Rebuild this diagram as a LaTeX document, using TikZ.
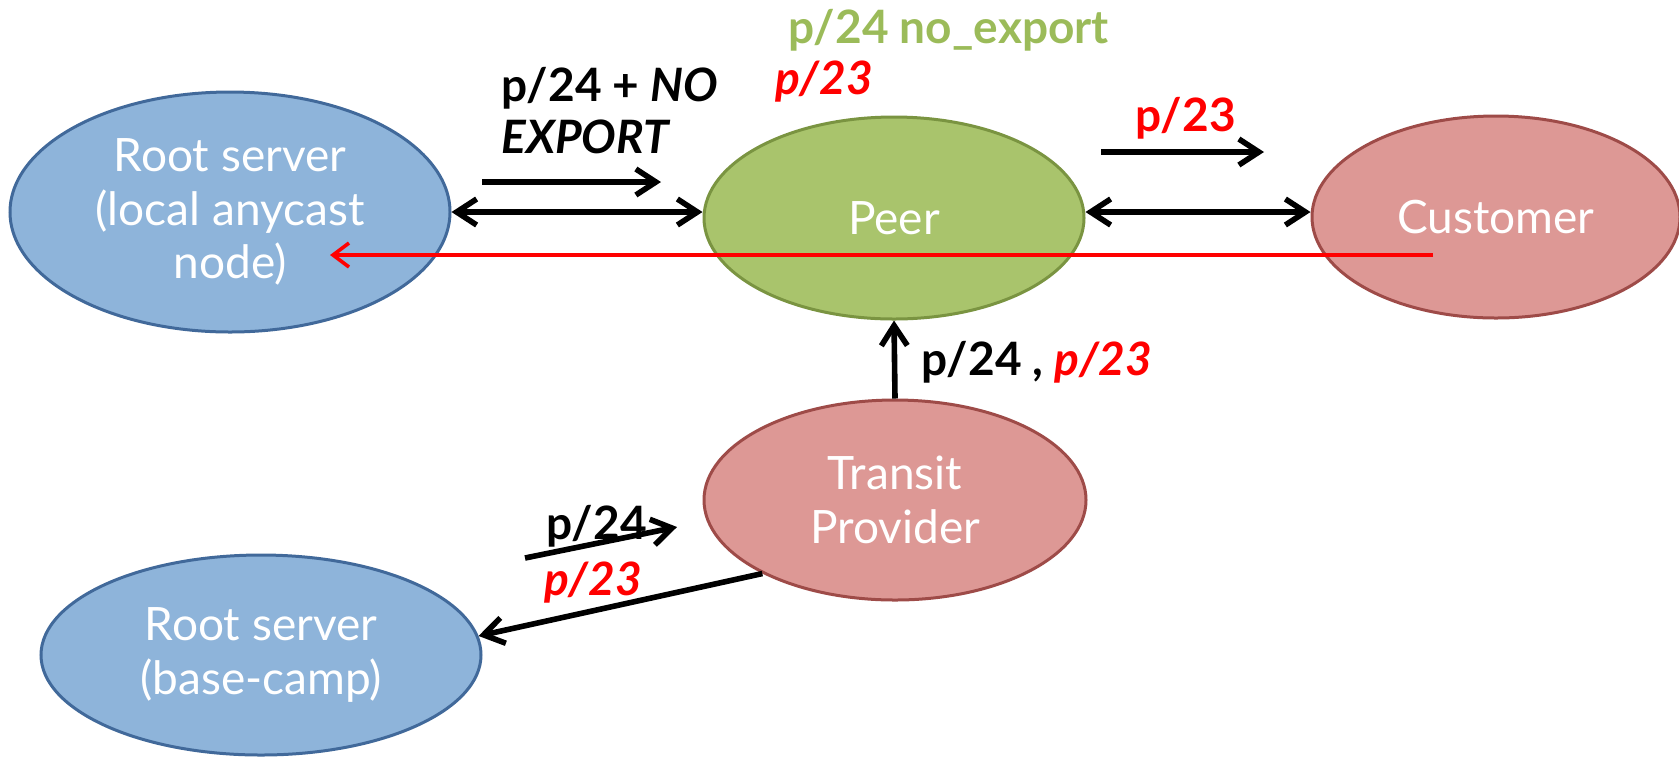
\documentclass[tikz,border=0pt]{standalone}
\usepackage{fontspec}
\setmainfont{Lato}
\usetikzlibrary{shapes.geometric,arrows.meta}
\definecolor{bluefill}{HTML}{8EB4DA}
\definecolor{bluedraw}{HTML}{41699A}
\definecolor{greenfill}{HTML}{A9C46C}
\definecolor{greendraw}{HTML}{7A9441}
\definecolor{pinkfill}{HTML}{DD9895}
\definecolor{pinkdraw}{HTML}{9E4B48}
\definecolor{greentext}{HTML}{9BBB59}
\definecolor{redtext}{HTML}{FF0000}
\tikzset{
  bubble/.style={ellipse, line width=1.5pt, text=white, align=center, inner sep=0pt,
    font=\fontsize{23}{26.8}\selectfont},
  bluebub/.style={bubble, fill=bluefill, draw=bluedraw},
  greenbub/.style={bubble, fill=greenfill, draw=greendraw},
  pinkbub/.style={bubble, fill=pinkfill, draw=pinkdraw},
  lbl/.style={font=\fontsize{23}{25.7}\selectfont\bfseries, inner sep=0pt, anchor=base west},
  arr/.style={line width=2.8pt, -{Straight Barb[length=10pt,width=13pt,line width=2.8pt]}},
  darr/.style={line width=2.8pt, {Straight Barb[length=10pt,width=13pt,line width=2.8pt]}-{Straight Barb[length=10pt,width=13pt,line width=2.8pt]}},
  redarr/.style={line width=1.8pt, draw=redtext, -{Straight Barb[length=8pt,width=12pt,line width=1.8pt]}}
}
\begin{document}
\begin{tikzpicture}[x=0.5pt,y=-0.5pt]
\useasboundingbox (0,0) rectangle (1679,757);
% ellipses
\node[bluebub, minimum width=220pt, minimum height=120pt] (root) at (230,212) {Root server\\(local anycast\\node)};
\node[greenbub, minimum width=190pt, minimum height=101pt] (peer) at (894,218) {Peer};
\node[pinkbub, minimum width=184pt, minimum height=101pt] (cust) at (1496,217) {Customer};
\node[pinkbub, minimum width=191pt, minimum height=100pt] (transit) at (895,500) {Transit\\Provider};
\node[bluebub, minimum width=220pt, minimum height=100pt] (base) at (261,655) {Root server\\(base-camp)};
% connectors
\draw[darr] (root.east |- 0,212) -- (peer.west |- 0,212);
\draw[darr] (peer.east |- 0,212) -- (cust.west |- 0,212);
\draw[arr] (transit.north) -- (peer.south);
\draw[arr] (transit.209) -- (base.5);
\coordinate (redstart) at (1433,255);
\coordinate (redend) at (330,255);
\draw[redarr] (redstart) -- (redend);
% annotation arrows
\coordinate (a1s) at (482,182); \coordinate (a1e) at (661,182);
\draw[arr] (a1s) -- (a1e);
\coordinate (a2s) at (1101,152); \coordinate (a2e) at (1264,152);
\draw[arr] (a2s) -- (a2e);
\coordinate (a3s) at (525,558); \coordinate (a3e) at (677,527);
\draw[arr] (a3s) -- (a3e);
% labels
\node[lbl, align=left] (t1) at (501,153) {p/24 + \textit{NO}\\\textit{EXPORT}};
\node[lbl, text=greentext] (t2) at (788,43) {p/24 no\_export};
\node[lbl, text=redtext] (t3) at (775,94) {\textit{p/23}};
\node[lbl, text=redtext] (t4) at (1135,131) {p/23};
\node[lbl] (t5) at (921,375) {p/24 , \textcolor{redtext}{\textit{p/23}}};
\node[lbl] (t6) at (546,539) {p/24};
\node[lbl, text=redtext] (t7) at (544,595) {\textit{p/23}};
\end{tikzpicture}
\end{document}
